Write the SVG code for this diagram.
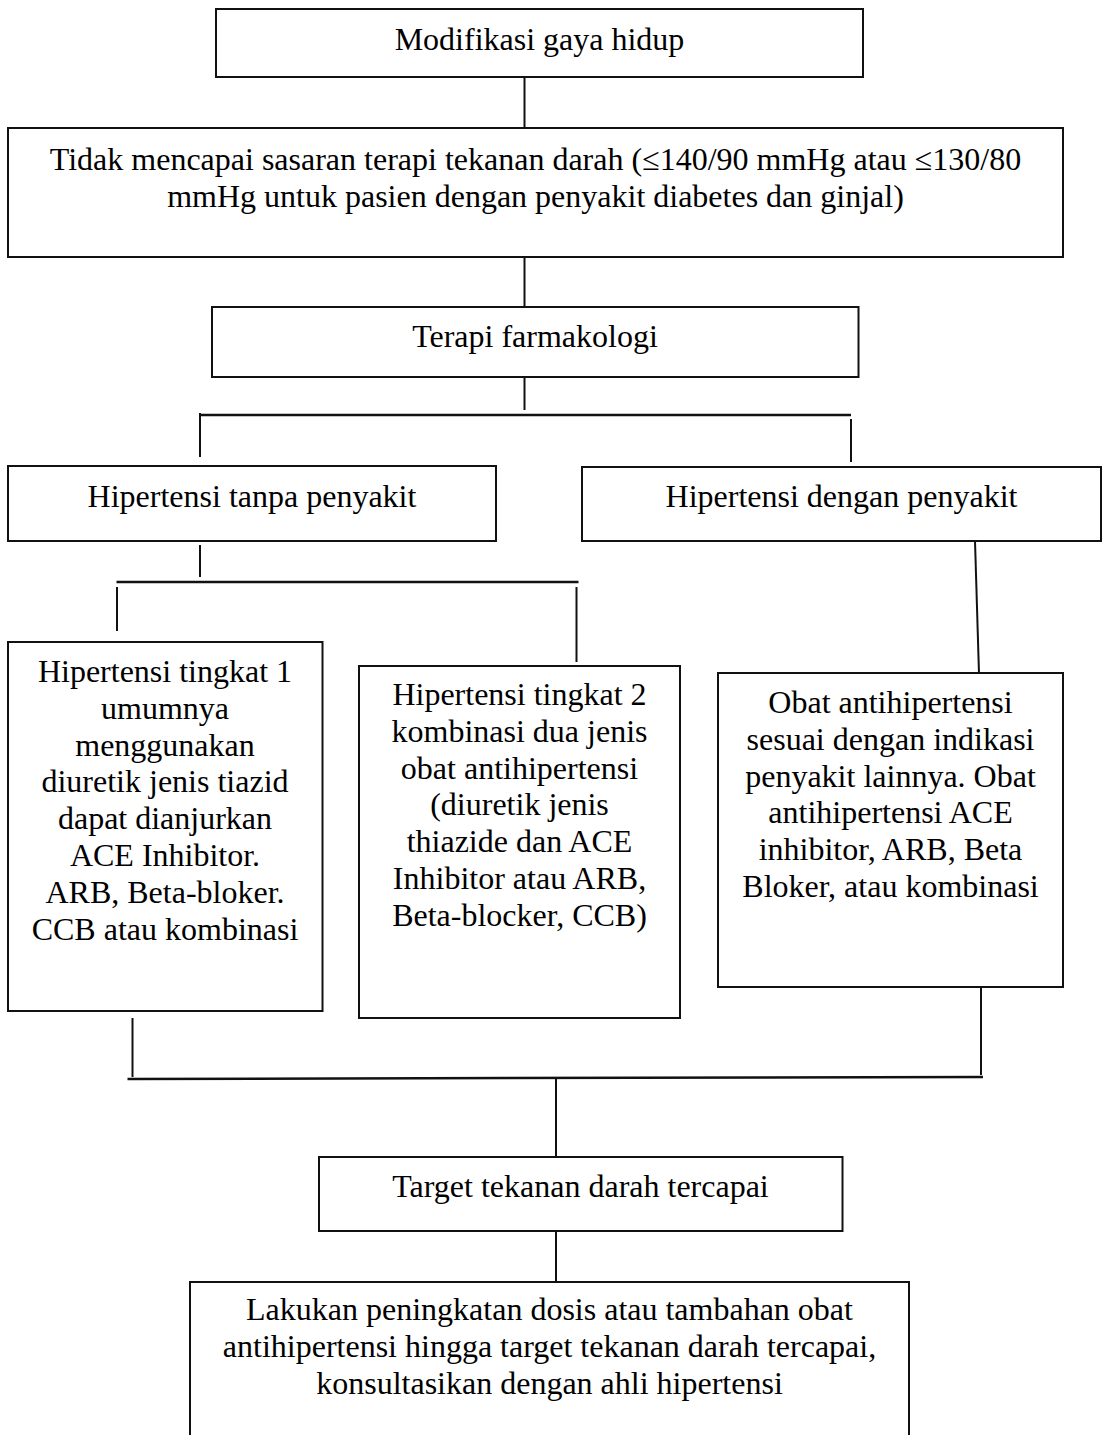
<svg xmlns="http://www.w3.org/2000/svg" width="1106" height="1435" viewBox="0 0 1106 1435">
<style>
.box{fill:#fff;stroke:#111;stroke-width:2}
.t{font-family:"Liberation Serif","Times New Roman",serif;font-size:32px;fill:#000;text-anchor:middle}
.c{stroke:#111;stroke-width:2;fill:none}
.h{stroke:#111;stroke-width:2.5;fill:none}
</style>
<rect width="1106" height="1435" fill="#fff"/>
<g id="connectors">
<line class="c" x1="524.5" y1="77" x2="524.5" y2="128"/>
<line class="c" x1="524.5" y1="257" x2="524.5" y2="307"/>
<line class="c" x1="524.5" y1="377" x2="524.5" y2="410"/>
<line class="h" x1="200" y1="415" x2="851" y2="415"/>
<line class="c" x1="200" y1="413" x2="200" y2="457"/>
<line class="c" x1="851" y1="419" x2="851" y2="462"/>
<line class="c" x1="200" y1="545" x2="200" y2="577"/>
<line class="h" x1="116.5" y1="582" x2="578.5" y2="582"/>
<line class="c" x1="117" y1="587" x2="117" y2="631"/>
<line class="c" x1="576.5" y1="587" x2="576.5" y2="662"/>
<line class="c" x1="975" y1="541" x2="979" y2="674"/>
<line class="c" x1="132.5" y1="1018" x2="132.5" y2="1077"/>
<line class="h" x1="127.5" y1="1079" x2="983" y2="1077"/>
<line class="c" x1="981" y1="985" x2="981" y2="1075"/>
<line class="c" x1="556" y1="1079" x2="556" y2="1157"/>
<line class="c" x1="556" y1="1231" x2="556" y2="1282"/>
</g>
<g id="n1">
<rect class="box" x="216" y="9" width="647" height="68"/>
<text class="t" x="539.5" y="50">Modifikasi gaya hidup</text>
</g>
<g id="n2">
<rect class="box" x="8" y="128" width="1055" height="129"/>
<text class="t" x="535.5" y="170">Tidak mencapai sasaran terapi tekanan darah (≤140/90 mmHg atau ≤130/80</text>
<text class="t" x="535.5" y="207">mmHg untuk pasien dengan penyakit diabetes dan ginjal)</text>
</g>
<g id="n3">
<rect class="box" x="212" y="307" width="646.5" height="70"/>
<text class="t" x="535" y="347">Terapi farmakologi</text>
</g>
<g id="n4">
<rect class="box" x="8" y="466" width="488" height="75"/>
<text class="t" x="252" y="507">Hipertensi tanpa penyakit</text>
</g>
<g id="n5">
<rect class="box" x="582" y="467" width="519" height="74"/>
<text class="t" x="841.5" y="507">Hipertensi dengan penyakit</text>
</g>
<g id="n6">
<rect class="box" x="8" y="642" width="314.5" height="369"/>
<text class="t" x="165" y="682">Hipertensi tingkat 1</text>
<text class="t" x="165" y="718.8">umumnya</text>
<text class="t" x="165" y="755.6">menggunakan</text>
<text class="t" x="165" y="792.4">diuretik jenis tiazid</text>
<text class="t" x="165" y="829.2">dapat dianjurkan</text>
<text class="t" x="165" y="866">ACE Inhibitor.</text>
<text class="t" x="165" y="902.8">ARB, Beta-bloker.</text>
<text class="t" x="165" y="939.6">CCB atau kombinasi</text>
</g>
<g id="n7">
<rect class="box" x="359" y="666" width="321" height="352"/>
<text class="t" x="519.5" y="705">Hipertensi tingkat 2</text>
<text class="t" x="519.5" y="741.8">kombinasi dua jenis</text>
<text class="t" x="519.5" y="778.6">obat antihipertensi</text>
<text class="t" x="519.5" y="815.4">(diuretik jenis</text>
<text class="t" x="519.5" y="852.2">thiazide dan ACE</text>
<text class="t" x="519.5" y="889">Inhibitor atau ARB,</text>
<text class="t" x="519.5" y="925.8">Beta-blocker, CCB)</text>
</g>
<g id="n8">
<rect class="box" x="718" y="673" width="345" height="314"/>
<text class="t" x="890.5" y="713">Obat antihipertensi</text>
<text class="t" x="890.5" y="749.8">sesuai dengan indikasi</text>
<text class="t" x="890.5" y="786.6">penyakit lainnya. Obat</text>
<text class="t" x="890.5" y="823.4">antihipertensi ACE</text>
<text class="t" x="890.5" y="860.2">inhibitor, ARB, Beta</text>
<text class="t" x="890.5" y="897">Bloker, atau kombinasi</text>
</g>
<g id="n9">
<rect class="box" x="319" y="1157" width="523.5" height="74"/>
<text class="t" x="580.5" y="1197">Target tekanan darah tercapai</text>
</g>
<g id="n10">
<rect class="box" x="190" y="1282" width="719" height="170"/>
<text class="t" x="549.5" y="1320">Lakukan peningkatan dosis atau tambahan obat</text>
<text class="t" x="549.5" y="1357">antihipertensi hingga target tekanan darah tercapai,</text>
<text class="t" x="549.5" y="1394">konsultasikan dengan ahli hipertensi</text>
</g>
</svg>
